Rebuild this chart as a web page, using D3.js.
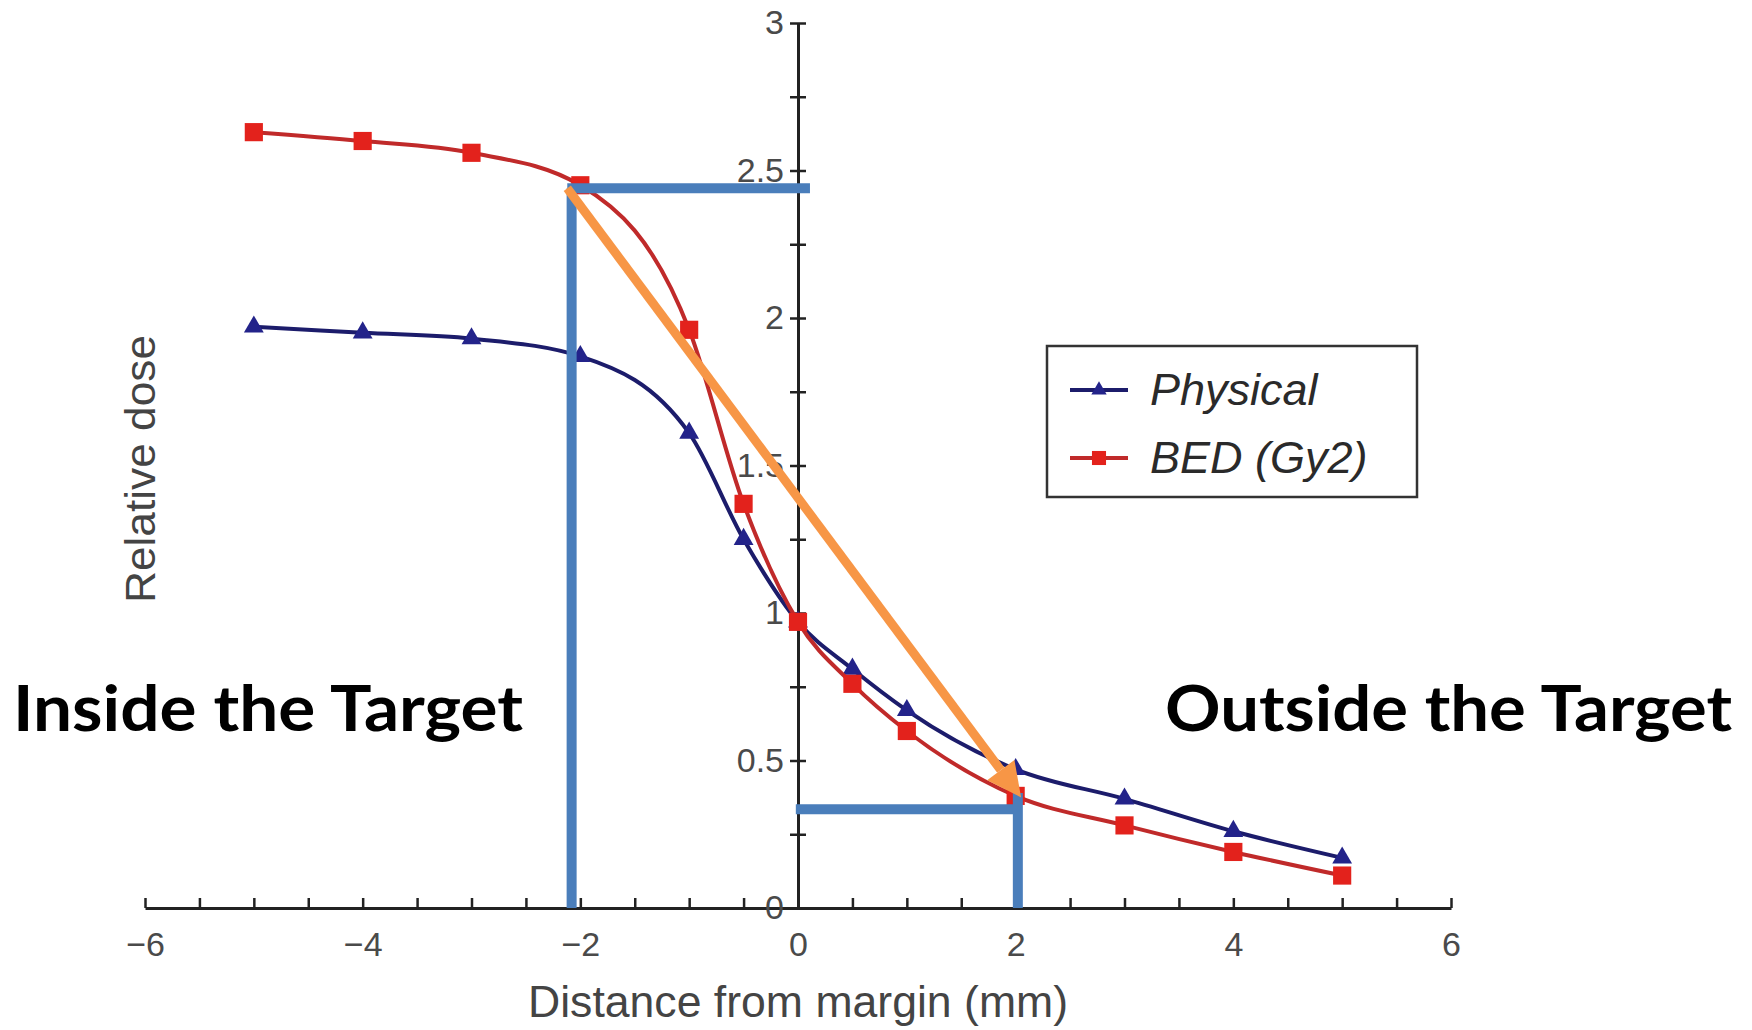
<!DOCTYPE html>
<html>
<head>
<meta charset="utf-8">
<script src="https://cdn.jsdelivr.net/npm/d3@7"></script>
<style>
  html, body { margin: 0; padding: 0; background: #fff; }
  svg { display: block; }
</style>
</head>
<body>
<svg id="chart"></svg>
<script>
const width = 1752;
const height = 1030;

// distance from margin (mm)
const distances = [-5, -4, -3, -2, -1, -0.5, 0, 0.5, 1, 2, 3, 4, 5];
const physical = [1.97, 1.95, 1.93, 1.87, 1.61, 1.25, 0.97, 0.81, 0.67, 0.47, 0.37, 0.26, 0.17];
const bed = [2.63, 2.6, 2.56, 2.45, 1.96, 1.37, 0.97, 0.76, 0.6, 0.38, 0.28, 0.19, 0.11];

const xLabels = [-6, -4, -2, 0, 2, 4, 6];
const yLabels = [0, 0.5, 1, 1.5, 2, 2.5, 3];

// overlay annotations, in data units
const bluePaths = [
  [[-2.08, 0], [-2.08, 2.44]],
  [[-2.12, 2.44], [0.11, 2.44]],
  [[-0.02, 0.335], [2.04, 0.335]],
  [[2.02, 0.0], [2.02, 0.39]]
];
const arrowFrom = [-2.12, 2.44];
const arrowTo = [2.05, 0.375];

const svg = d3.select("#chart")
  .attr("width", width)
  .attr("height", height);

const x = d3.scaleLinear().domain([-6, 6]).range([145, 1451]);
const y = d3.scaleLinear().domain([0, 3]).range([908, 23]);

const tickColor = "#4a4a4a";
const font = "'Liberation Sans', Arial, sans-serif";

// x axis: minor ticks every 0.5, labels every 2
const xAxis = d3.axisBottom(x)
  .tickValues(d3.range(-6, 6.01, 0.5))
  .tickSizeInner(-10)
  .tickSizeOuter(0)
  .tickPadding(24)
  .tickFormat(d => xLabels.includes(d) ? d3.format("d")(d) : "");

const gx = svg.append("g")
  .attr("transform", `translate(0, ${y(0)})`)
  .call(xAxis);
gx.select(".domain").attr("stroke", "#222").attr("stroke-width", 3);
gx.selectAll(".tick line").attr("stroke", "#222").attr("stroke-width", 2.5);
gx.selectAll(".tick text")
  .attr("fill", tickColor)
  .style("font-family", font)
  .style("font-size", "34px");

// y axis: ticks every 0.25 crossing the axis, labels every 0.5
const yAxis = d3.axisLeft(y)
  .tickValues(d3.range(0, 3.01, 0.25))
  .tickSize(0)
  .tickPadding(14)
  .tickFormat(d => yLabels.includes(d) ? String(d) : "");

const gy = svg.append("g")
  .attr("transform", `translate(${x(0)}, 0)`)
  .call(yAxis);
gy.select(".domain").attr("stroke", "#222").attr("stroke-width", 3);
gy.selectAll(".tick")
  .filter(d => d > 0)
  .append("line")
  .attr("x1", -8)
  .attr("x2", 8)
  .attr("stroke", "#222")
  .attr("stroke-width", 2.5);
gy.selectAll(".tick text")
  .attr("fill", tickColor)
  .style("font-family", font)
  .style("font-size", "34px");

// axis titles
svg.append("text")
  .attr("x", x(0))
  .attr("y", 1017)
  .attr("text-anchor", "middle")
  .attr("fill", "#444")
  .attr("textLength", 540)
  .attr("lengthAdjust", "spacingAndGlyphs")
  .style("font-family", font)
  .style("font-size", "45px")
  .text("Distance from margin (mm)");

svg.append("text")
  .attr("transform", "rotate(-90)")
  .attr("x", -469)
  .attr("y", 155)
  .attr("text-anchor", "middle")
  .attr("fill", "#444")
  .attr("textLength", 268)
  .attr("lengthAdjust", "spacingAndGlyphs")
  .style("font-family", font)
  .style("font-size", "43px")
  .text("Relative dose");

// series
const series = [
  { name: "Physical", values: physical, line: "#1c1c6b", fill: "#23238a", symbol: d3.symbolTriangle, size: 170 },
  { name: "BED (Gy2)", values: bed, line: "#c02a2a", fill: "#e3221c", symbol: d3.symbolSquare, size: 330 }
];

const line = d3.line()
  .x(d => x(d[0]))
  .y(d => y(d[1]))
  .curve(d3.curveMonotoneX);

series.forEach(s => {
  const pts = distances.map((d, i) => [d, s.values[i]]);
  svg.append("path")
    .datum(pts)
    .attr("d", line)
    .attr("fill", "none")
    .attr("stroke", s.line)
    .attr("stroke-width", 4);
  svg.selectAll(null)
    .data(pts)
    .enter()
    .append("path")
    .attr("d", d3.symbol().type(s.symbol).size(s.size))
    .attr("transform", d => `translate(${x(d[0])}, ${y(d[1])})`)
    .attr("fill", s.fill);
});

// legend
const legend = svg.append("g");
legend.append("rect")
  .attr("x", 1047).attr("y", 346)
  .attr("width", 370).attr("height", 151)
  .attr("fill", "#fff")
  .attr("stroke", "#333")
  .attr("stroke-width", 2.5);
series.forEach((s, i) => {
  const ly = 390 + i * 68;
  legend.append("line")
    .attr("x1", 1070).attr("x2", 1128)
    .attr("y1", ly).attr("y2", ly)
    .attr("stroke", s.line)
    .attr("stroke-width", 4);
  legend.append("path")
    .attr("d", d3.symbol().type(s.symbol).size(s.size * 0.6))
    .attr("transform", `translate(1099, ${ly})`)
    .attr("fill", s.fill);
  legend.append("text")
    .attr("x", 1150)
    .attr("y", ly + 15)
    .attr("fill", "#2a2a2a")
    .style("font-family", font)
    .style("font-style", "italic")
    .style("font-size", "45px")
    .text(s.name);
});

// blue annotation lines
svg.selectAll(".blue")
  .data(bluePaths)
  .enter()
  .append("path")
  .attr("class", "blue")
  .attr("d", d3.line().x(d => x(d[0])).y(d => y(d[1])))
  .attr("stroke", "#4a7ebb")
  .attr("stroke-width", 10)
  .attr("fill", "none");

// orange arrow
const ax0 = x(arrowFrom[0]), ay0 = y(arrowFrom[1]);
const ax1 = x(arrowTo[0]), ay1 = y(arrowTo[1]);
const ang = Math.atan2(ay1 - ay0, ax1 - ax0);
const headLen = 34, headHalf = 17;
const bx = ax1 - headLen * Math.cos(ang), by = ay1 - headLen * Math.sin(ang);
svg.append("line")
  .attr("x1", ax0).attr("y1", ay0)
  .attr("x2", bx).attr("y2", by)
  .attr("stroke", "#f79646")
  .attr("stroke-width", 9);
svg.append("path")
  .attr("d", `M${ax1},${ay1} L${bx - headHalf * Math.sin(ang)},${by + headHalf * Math.cos(ang)} L${bx + headHalf * Math.sin(ang)},${by - headHalf * Math.cos(ang)} Z`)
  .attr("fill", "#f79646");

// region labels
const bold = "Lato, 'Open Sans', sans-serif";
svg.append("text")
  .attr("x", 13).attr("y", 731)
  .attr("textLength", 510)
  .attr("lengthAdjust", "spacingAndGlyphs")
  .style("font-family", bold)
  .style("font-weight", "bold")
  .style("font-size", "64px")
  .text("Inside the Target");
svg.append("text")
  .attr("x", 1165).attr("y", 731)
  .attr("textLength", 567)
  .attr("lengthAdjust", "spacingAndGlyphs")
  .style("font-family", bold)
  .style("font-weight", "bold")
  .style("font-size", "64px")
  .text("Outside the Target");
</script>
</body>
</html>
